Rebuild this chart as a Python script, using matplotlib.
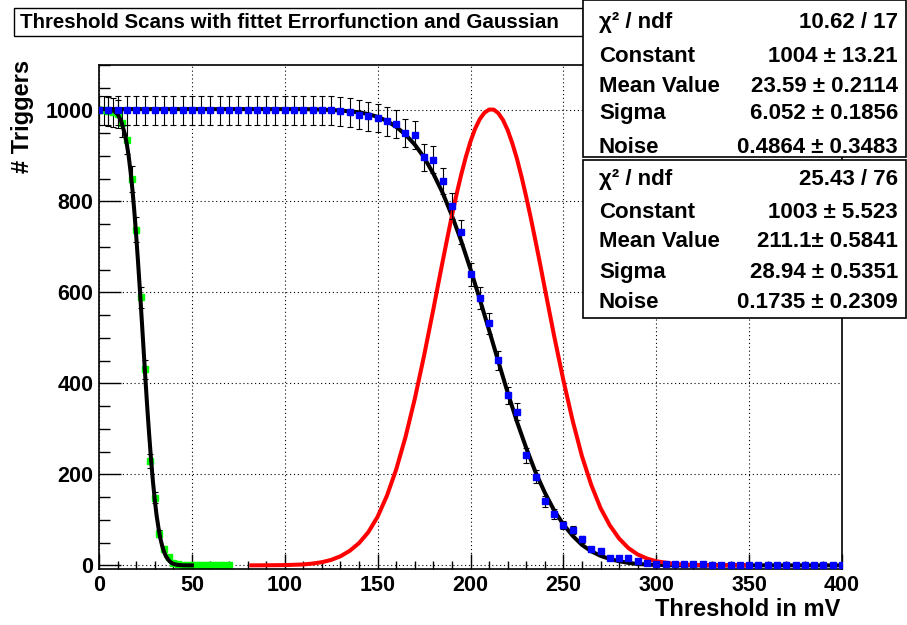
import matplotlib
matplotlib.use("Agg")
import matplotlib.pyplot as plt
from matplotlib.patches import Rectangle
from matplotlib.ticker import MultipleLocator

plt.rcParams['font.family'] = ['Liberation Sans', 'DejaVu Sans']
plt.rcParams['font.weight'] = 'bold'

# ---- first scan (green), 2.5 mV steps ----
scan1_x = [0, 2.5, 5, 7.5, 10, 12.5, 15, 17.5, 20, 22.5, 25, 27.5, 30, 32.5, 35,
           37.5, 40, 42.5, 45, 47.5, 50, 52.5, 55, 57.5, 60, 62.5, 65, 67.5, 70]
scan1_y = [1000, 1000, 998, 996, 992, 973, 936, 850, 738, 589, 431, 229, 149, 70, 37,
           18, 6, 2, 1, 0, 0, 0, 0, 0, 0, 0, 0, 0, 0]
scan1_err = [32, 32, 32, 32, 31, 31, 31, 29, 27, 24, 21, 15, 12, 8, 6,
             4, 2, 1, 1, 0, 0, 0, 0, 0, 0, 0, 0, 0, 0]

# ---- second scan (blue), 5 mV steps ----
scan2_x = [0, 5, 10, 15, 20, 25, 30, 35, 40, 45, 50, 55, 60, 65, 70, 75, 80, 85, 90, 95,
           100, 105, 110, 115, 120, 125, 130, 135, 140, 145, 150, 155, 160, 165, 170, 175,
           180, 185, 190, 195, 200, 205, 210, 215, 220, 225, 230, 235, 240, 245, 250, 255,
           260, 265, 270, 275, 280, 285, 290, 295, 300, 305, 310, 315, 320, 325, 330, 335,
           340, 345, 350, 355, 360, 365, 370, 375, 380, 385, 390, 395, 400]
scan2_y = [1000, 1000, 1000, 1000, 1000, 1000, 1000, 1000, 1000, 1000, 1000, 1000, 1000,
           1000, 1000, 1000, 1000, 1000, 1000, 1000, 1000, 1000, 1000, 1000, 1000, 1000,
           998, 996, 991, 987, 984, 976, 971, 951, 946, 897, 892, 845, 790, 733, 640, 587,
           532, 451, 374, 338, 242, 195, 141, 112, 88, 77, 57, 35, 31, 17, 17, 17, 9, 6,
           4, 3, 3, 2, 2, 2, 1, 1, 1, 1, 1, 0, 0, 0, 0, 0, 0, 0, 0, 0, 0]
scan2_err = [32, 32, 32, 32, 32, 32, 32, 32, 32, 32, 32, 32, 32, 32, 32, 32, 32, 32, 32,
             32, 32, 32, 32, 32, 32, 32, 32, 32, 31, 31, 31, 31, 31, 31, 31, 30, 30, 29,
             28, 27, 25, 24, 23, 21, 19, 18, 16, 14, 12, 11, 9, 9, 8, 6, 6, 4, 4, 4, 3, 2,
             2, 2, 2, 1, 1, 1, 1, 1, 1, 1, 1, 0, 0, 0, 0, 0, 0, 0, 0, 0, 0]

# ---- fitted curves ----
fit1_x = [0, 4, 6, 8, 10, 12, 14, 15, 16, 17, 18, 19, 20, 21, 22, 23, 24, 25, 26, 27,
          28, 29, 30, 31, 32, 33, 34, 35, 36, 37, 38, 39, 40, 42, 44, 46, 48, 50]
fit1_y = [1004, 1003, 1002, 999, 992, 976, 947, 925, 899, 865, 826, 779, 726, 668, 606,
          541, 475, 409, 346, 288, 234, 186, 145, 110, 83, 60, 43, 30, 20, 14, 9, 5.5,
          3.3, 1.2, 0.4, 0.1, 0, 0]

fit2_x = [0, 50, 100, 110, 120, 130, 140, 145, 150, 155, 160, 165, 170, 175, 180, 185,
          190, 195, 200, 205, 210, 215, 220, 225, 230, 235, 240, 245, 250, 255, 260, 265,
          270, 275, 280, 285, 290, 300, 310, 320, 350, 400]
fit2_y = [1003, 1003, 1003, 1003, 1002, 1000, 996, 992, 986, 977, 964, 947, 925, 897,
          861, 819, 769, 713, 651, 585, 517, 448, 380, 316, 258, 205, 160, 121, 90, 65,
          45, 31, 21, 14, 9, 5.5, 3, 1, 0.3, 0.1, 0, 0]

gauss_x = [82, 90, 100, 110, 115, 120, 125, 130, 135, 140, 145, 150, 155, 160, 165, 170,
           175, 180, 182.5, 185, 187.5, 190, 192.5, 195, 197.5, 200, 202.5, 205, 207.5,
           210, 212.5, 215, 217.5, 220, 222.5, 225, 227.5, 230, 232.5, 235, 237.5, 240,
           245, 250, 255, 260, 265, 270, 275, 280, 285, 290, 295, 300, 310, 320, 330,
           340, 350]
gauss_y = [0.05, 0.2, 0.6, 2, 4, 7, 12, 20, 32, 49, 73, 107, 153, 211, 282, 366, 461,
           563, 616, 668, 719, 769, 816, 859, 898, 932, 960, 981, 995, 1002, 1002, 994,
           979, 957, 928, 894, 854, 810, 763, 713, 662, 609, 505, 407, 318, 240, 177,
           126, 88, 59, 38, 24, 15, 9, 3, 0.8, 0.2, 0.05, 0]

fit_rows = [("χ² / ndf", "10.62 / 17"), ("Constant", "1004 ± 13.21"),
            ("Mean Value", "23.59 ± 0.2114"), ("Sigma", "6.052 ± 0.1856"),
            ("Noise", "0.4864 ± 0.3483")]
fit_rows2 = [("χ² / ndf", "25.43 / 76"), ("Constant", "1003 ± 5.523"),
             ("Mean Value", "211.1± 0.5841"), ("Sigma", "28.94 ± 0.5351"),
             ("Noise", "0.1735 ± 0.2309")]

W, H = 907, 625
fig = plt.figure(figsize=(W / 100, H / 100), dpi=100)
ax = fig.add_axes([99 / W, 1 - 569 / H, (842 - 99) / W, (569 - 65) / H])

ax.errorbar(scan1_x, scan1_y, yerr=scan1_err, fmt='s', color='#00ff00', mec='#00ff00',
            ms=3.8, ecolor='black', elinewidth=0.8, capsize=2.2, capthick=0.8, zorder=2)
ax.plot(fit1_x, fit1_y, color='black', lw=2.9, zorder=3)
ax.plot(fit2_x, fit2_y, color='black', lw=2.9, zorder=3)
ax.plot(gauss_x, gauss_y, color='red', lw=2.9, zorder=4)
ax.errorbar(scan2_x, scan2_y, yerr=scan2_err, fmt='s', color='#0000ff', mec='#0000ff',
            ms=3.8, ecolor='black', elinewidth=0.8, capsize=2.2, capthick=0.8, zorder=5)

ax.set_xlim(0, 400)
ax.set_ylim(-8, 1100)
ax.xaxis.set_major_locator(MultipleLocator(50))
ax.xaxis.set_minor_locator(MultipleLocator(10))
ax.yaxis.set_major_locator(MultipleLocator(200))
ax.yaxis.set_minor_locator(MultipleLocator(50))
ax.grid(True, which='major', color='black', ls=(0, (1, 2.5)), lw=0.8)
ax.set_axisbelow(True)
ax.tick_params(which='both', direction='in', top=False, right=False, width=1,
               labelsize=15.5)
ax.tick_params(axis='x', which='major', length=11, pad=4)
ax.tick_params(axis='x', which='minor', length=5.5)
ax.tick_params(axis='y', which='major', length=16, pad=4)
ax.tick_params(axis='y', which='minor', length=8)
for lab in ax.get_xticklabels() + ax.get_yticklabels():
    lab.set_fontweight('bold')
for sp in ax.spines.values():
    sp.set_linewidth(1.2)

fig.text(840 / W, 1 - 609 / H, "Threshold in mV", ha='right', va='center',
         fontsize=17, fontweight='bold')
fig.text(22 / W, 1 - 60 / H, "# Triggers", ha='center', va='top', rotation=90,
         fontsize=17, fontweight='bold')

# title box
fig.patches.append(Rectangle((14 / W, 1 - 36 / H), (583 - 14) / W, 28 / H,
                             transform=fig.transFigure, fill=False, ec='black', lw=1))
fig.text(289 / W, 1 - 22 / H, "Threshold Scans with fittet Errorfunction and Gaussian",
         ha='center', va='center', fontsize=14.8, fontweight='bold')

# stat boxes
boxes = [(0, 157, fit_rows, [28, 62, 92, 119, 153]),
         (160, 318, fit_rows2, [185, 218, 247, 278, 308])]
for top, bot, rows, bases in boxes:
    fig.patches.append(Rectangle((583 / W, 1 - bot / H), (906 - 583) / W, (bot - top) / H,
                                 transform=fig.transFigure, fc='white', ec='black',
                                 lw=1.2, zorder=10))
    for (name, val), yb in zip(rows, bases):
        fig.text(599 / W, 1 - yb / H, name, ha='left', va='baseline', fontsize=16,
                 fontweight='bold', zorder=11)
        fig.text(898 / W, 1 - yb / H, val, ha='right', va='baseline', fontsize=16,
                 fontweight='bold', zorder=11)

fig.savefig("out.png", dpi=100, facecolor='white')
